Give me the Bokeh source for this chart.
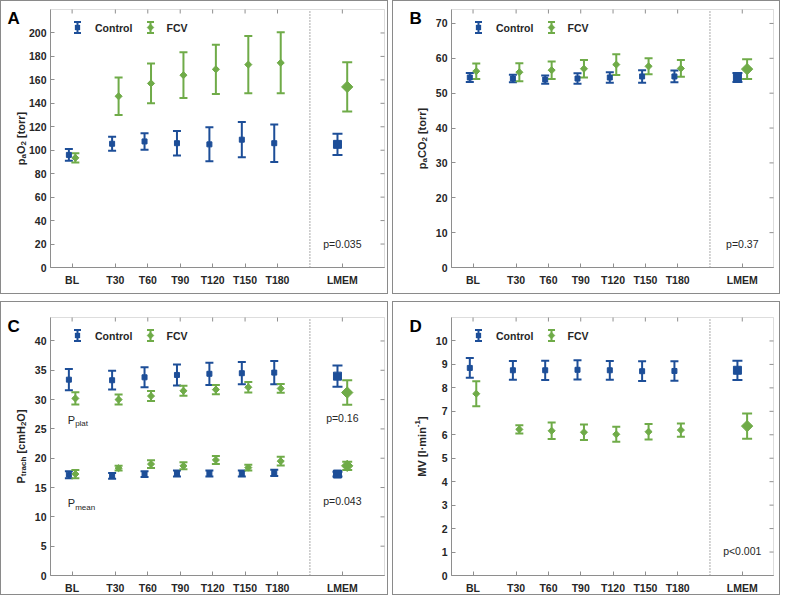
import math
from bokeh.plotting import figure
from bokeh.models import (ColumnDataSource, Whisker, TeeHead, Label, FixedTicker,
                          LinearAxis, Range1d, BoxAnnotation, PolyAnnotation)
from bokeh.layouts import row, column
from bokeh.embed import file_html
from bokeh.resources import INLINE

# ---------------- data ----------------
categories = ["BL", "T30", "T60", "T90", "T120", "T150", "T180", "LMEM"]

pao2_control = [96, 105.5, 107.5, 106, 105, 109, 106, 105]
pao2_control_sd = [5, 6, 7, 10.5, 14.5, 15, 16, 9]
pao2_fcv = [93.5, 146, 157, 164, 169, 173, 174.5, 154]
pao2_fcv_sd = [4, 16, 17, 19.5, 21, 24.5, 26, 21]

paco2_control = [54.5, 54.2, 53.9, 54.2, 54.5, 54.8, 54.8, 54.5]
paco2_control_sd = [1.3, 1.1, 1.2, 1.5, 1.5, 1.8, 1.7, 1.3]
paco2_fcv = [56.3, 56.0, 56.6, 57.0, 58.2, 57.7, 57.1, 56.9]
paco2_fcv_sd = [2.2, 2.6, 2.5, 2.5, 3.0, 2.3, 2.4, 2.8]

pplat_control = [33.4, 33.3, 33.8, 34.2, 34.4, 34.5, 34.6, 34.0]
pplat_control_sd = [1.8, 1.6, 1.7, 1.8, 1.9, 1.9, 2.0, 1.8]
pplat_fcv = [30.2, 30.0, 30.6, 31.5, 31.7, 32.1, 31.9, 31.2]
pplat_fcv_sd = [1.05, 0.85, 0.85, 0.85, 0.8, 0.9, 0.75, 2.1]
pmean_control = [17.2, 17.0, 17.3, 17.4, 17.4, 17.4, 17.5, 17.3]
pmean_control_sd = [0.6, 0.5, 0.5, 0.5, 0.5, 0.5, 0.55, 0.4]
pmean_fcv = [17.3, 18.3, 19.0, 18.7, 19.7, 18.4, 19.5, 18.7]
pmean_fcv_sd = [0.7, 0.4, 0.65, 0.6, 0.7, 0.5, 0.75, 0.7]

mv_control = [8.85, 8.75, 8.75, 8.77, 8.75, 8.71, 8.72, 8.75]
mv_control_sd = [0.42, 0.40, 0.41, 0.41, 0.40, 0.42, 0.42, 0.41]
mv_fcv = [7.75, 6.23, 6.17, 6.11, 6.02, 6.13, 6.20, 6.37]
mv_fcv_sd = [0.53, 0.18, 0.35, 0.33, 0.32, 0.33, 0.28, 0.54]

p_text_a = ["p=0.035"]
p_text_b = ["p=0.37"]
p_text_c = ["p=0.16", "p=0.043"]
p_text_d = ["p<0.001"]

# ---------------- layout / style ----------------
x_positions = [-10, 30, 60, 90, 120, 150, 180, 240]
X_START = -30
DIVIDER_X = 210
BLUE = "#1d4e98"
GREEN = "#6fab48"
AXIS_GRAY = "#8f8f8f"
TEXT = "#262626"
FONT = "Liberation Sans"
FIG_W, FIG_H = 388, 294
TICK_FS = "10.5px"

CHAR_W = {"p": .611, "a": .556, "O": .778, "2": .556, " ": .278, "[": .333, "]": .333,
          "t": .333, "o": .611, "r": .389, "C": .722, "P": .667, "c": .556, "h": .611,
          "m": .889, "H": .722, "M": .833, "V": .667, "l": .278, "·": .333, "i": .278,
          "n": .611, "-": .333, "1": .556}


def tw(s, size):
    return sum(CHAR_W.get(ch, 0.6) for ch in s) * size


def style_axis(ax, standoff):
    ax.axis_line_color = AXIS_GRAY
    ax.major_tick_line_color = AXIS_GRAY
    ax.major_tick_in = 4
    ax.major_tick_out = 0
    ax.minor_tick_in = 0
    ax.minor_tick_out = 0
    ax.major_label_text_font = FONT
    ax.major_label_text_font_style = "bold"
    ax.major_label_text_color = TEXT
    ax.major_label_text_font_size = TICK_FS
    ax.major_label_standoff = standoff


def add_series(p, means, sds, color, side, kind):
    n = len(means)
    xs = [x_positions[i] + side * (4.5 if i == n - 1 else 3.0) for i in range(n)]
    up = [m + s for m, s in zip(means, sds)]
    lo = [m - s for m, s in zip(means, sds)]
    groups = [(slice(0, n - 1), 8, 5), (slice(n - 1, n), 10, 8)]
    for sl, cap, msize in groups:
        src = ColumnDataSource(dict(x=xs[sl], y=means[sl], upper=up[sl], lower=lo[sl]))
        p.add_layout(Whisker(source=src, base="x", upper="upper", lower="lower",
                             line_color=color, line_width=2,
                             upper_head=TeeHead(size=cap, line_color=color, line_width=2),
                             lower_head=TeeHead(size=cap, line_color=color, line_width=2)))
        ang = 0 if kind == "square" else math.pi / 4
        p.scatter("x", "y", source=src, marker="square", size=msize, angle=ang,
                  fill_color=color, line_color=color)


def make_panel(letter, letter_dx, y_end, y_step, x_end, borders, ylabel_parts):
    L, R, T, B = borders
    bw = FIG_W - L - R
    bh = FIG_H - T - B
    sx = bw / (x_end - X_START)
    sy = bh / y_end
    p = figure(width=FIG_W, height=FIG_H,
               x_range=Range1d(X_START - L / sx, x_end + R / sx),
               y_range=Range1d(-B / sy, y_end + T / sy),
               x_axis_type=None, y_axis_type=None,
               output_backend="svg", toolbar_location=None, min_border=0,
               background_fill_color="white", border_fill_color="white")
    p.styles = {"border": "1px solid #8a8a8a"}
    p.grid.visible = False
    p.outline_line_color = None

    yticks = [v for v in range(0, int(y_end) + 1, y_step) if v <= y_end - 0.5]

    # plot box
    p.add_layout(BoxAnnotation(left=X_START, right=x_end, bottom=0, top=y_end,
                               fill_alpha=0, line_color=AXIS_GRAY, line_width=1))

    yax = LinearAxis(fixed_location=X_START, bounds=(0, y_end),
                     ticker=FixedTicker(ticks=yticks, minor_ticks=[]))
    style_axis(yax, 4)
    p.add_layout(yax, "left")
    xax = LinearAxis(fixed_location=0, bounds=(X_START, x_end),
                     ticker=FixedTicker(ticks=x_positions, minor_ticks=[]),
                     major_label_overrides={x: c for x, c in zip(x_positions, categories)})
    style_axis(xax, 6)
    p.add_layout(xax, "below")

    # inner ticks on top and right sides of the box
    p.segment(x0=x_positions, x1=x_positions, y0=[y_end] * len(x_positions),
              y1=[y_end - 4 / sy] * len(x_positions), line_color=AXIS_GRAY, line_width=1)
    p.segment(x0=[x_end] * len(yticks), x1=[x_end - 4 / sx] * len(yticks), y0=yticks, y1=yticks,
              line_color=AXIS_GRAY, line_width=1)

    # divider before LMEM
    p.segment(x0=[DIVIDER_X], x1=[DIVIDER_X], y0=[0], y1=[y_end], line_color="#555555",
              line_dash="1 2", line_width=1)

    # panel letter (screen coords: from canvas left / bottom)
    p.add_layout(Label(x=L + letter_dx, y=FIG_H - T - 9, x_units="screen", y_units="screen",
                       text=letter, text_font=FONT, text_font_style="bold",
                       text_font_size="17px", text_color="black",
                       text_baseline="alphabetic", text_align="left"))

    # y-axis label built of pieces (with sub/superscripts)
    sizes = {"n": 11, "sub": 8, "sup": 8}
    shift = {"n": 0, "sub": 3, "sup": -4.5}
    total = sum(tw(t, sizes[k]) for t, k in ylabel_parts)
    yy = B + bh / 2 - total / 2
    for t, k in ylabel_parts:
        lead = len(t) - len(t.lstrip(" "))
        yy += tw(" " * lead, sizes[k])
        t = t.lstrip(" ")
        p.add_layout(Label(x=L - 30 + shift[k], y=yy, x_units="screen", y_units="screen", text=t,
                           angle=math.pi / 2, text_font=FONT, text_font_style="bold",
                           text_font_size=f"{sizes[k]}px", text_color=TEXT,
                           text_align="left", text_baseline="alphabetic"))
        yy += tw(t, sizes[k])

    # legend
    cy = FIG_H - T - 18
    for bx, tx, color, kind, label in ((27, 44.5, BLUE, "square", "Control"),
                                       (100, 116, GREEN, "diamond", "FCV")):
        bx += L
        tx += L
        src = ColumnDataSource(dict(base=[bx], lower=[cy - 5.5], upper=[cy + 5.5]))
        p.add_layout(Whisker(source=src, base="base", lower="lower", upper="upper",
                             base_units="screen", lower_units="screen", upper_units="screen",
                             line_color=color, line_width=2,
                             upper_head=TeeHead(size=7, line_color=color, line_width=2),
                             lower_head=TeeHead(size=7, line_color=color, line_width=2)))
        if kind == "square":
            p.add_layout(BoxAnnotation(left=bx - 2.5, right=bx + 2.5, bottom=cy - 2.5, top=cy + 2.5,
                                       left_units="screen", right_units="screen",
                                       bottom_units="screen", top_units="screen",
                                       fill_color=color, fill_alpha=1, line_color=color))
        else:
            p.add_layout(PolyAnnotation(xs=[bx, bx + 3.5, bx, bx - 3.5],
                                        ys=[cy + 3.5, cy, cy - 3.5, cy],
                                        xs_units="screen", ys_units="screen",
                                        fill_color=color, fill_alpha=1, line_color=color))
        p.add_layout(Label(x=tx, y=cy, x_units="screen", y_units="screen", text=label,
                           text_font=FONT, text_font_style="bold", text_font_size=TICK_FS,
                           text_color=TEXT, text_baseline="middle", text_align="left"))
    return p, sy


def p_label(p, y, text):
    p.add_layout(Label(x=x_positions[-1], y=y, text=text, text_font=FONT, text_font_size="10.5px",
                       text_color=TEXT, text_align="center", text_baseline="middle"))


# ---- Panel A ----
pa, _ = make_panel("A", -43, 220, 20, 279, (49, 5, 8, 28),
                   [("p", "n"), ("a", "sub"), ("O", "n"), ("2", "sub"), (" [torr]", "n")])
add_series(pa, pao2_control, pao2_control_sd, BLUE, -1, "square")
add_series(pa, pao2_fcv, pao2_fcv_sd, GREEN, 1, "diamond")
p_label(pa, 19.7, p_text_a[0])

# ---- Panel B ----
pb, _ = make_panel("B", -42, 74, 10, 269, (58, 8, 8, 28),
                   [("p", "n"), ("a", "sub"), ("CO", "n"), ("2", "sub"), (" [torr]", "n")])
add_series(pb, paco2_control, paco2_control_sd, BLUE, -1, "square")
add_series(pb, paco2_fcv, paco2_fcv_sd, GREEN, 1, "diamond")
p_label(pb, 6.7, p_text_b[0])

# ---- Panel C ----
pc, sy_c = make_panel("C", -43, 44, 5, 279, (49, 5, 15, 21),
                      [("P", "n"), ("trach", "sub"), (" [cmH", "n"), ("2", "sub"), ("O]", "n")])
add_series(pc, pplat_control, pplat_control_sd, BLUE, -1, "square")
add_series(pc, pplat_fcv, pplat_fcv_sd, GREEN, 1, "diamond")
add_series(pc, pmean_control, pmean_control_sd, BLUE, -1, "square")
add_series(pc, pmean_fcv, pmean_fcv_sd, GREEN, 1, "diamond")
p_label(pc, 26.9, p_text_c[0])
p_label(pc, 12.7, p_text_c[1])
for main_y, sub in ((26.6, "plat"), (12.3, "mean")):
    pc.add_layout(Label(x=-14, y=main_y, text="P", text_font=FONT, text_font_size="11px",
                        text_color=TEXT, text_align="left", text_baseline="alphabetic"))
    pc.add_layout(Label(x=-14, y=main_y - 4 / sy_c, x_offset=tw("P", 11), text=sub,
                        text_font=FONT, text_font_size="8px", text_color=TEXT,
                        text_align="left", text_baseline="alphabetic"))

# ---- Panel D ----
pd_, _ = make_panel("D", -42, 11, 1, 269, (58, 8, 15, 21),
                    [("MV [l·min", "n"), ("-1", "sup"), ("]", "n")])
add_series(pd_, mv_control, mv_control_sd, BLUE, -1, "square")
add_series(pd_, mv_fcv, mv_fcv_sd, GREEN, 1, "diamond")
p_label(pd_, 1.05, p_text_d[0])

layout = column(row(pa, pb, spacing=4), row(pc, pd_, spacing=4), spacing=7)

open("out.html", "w").write(file_html(layout, INLINE))
